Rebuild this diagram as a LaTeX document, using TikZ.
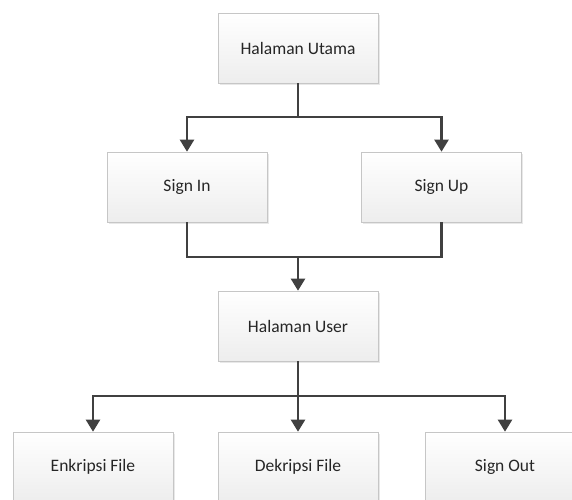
\documentclass[tikz,border=0pt]{standalone}
\usepackage{fontspec}
\setmainfont{Carlito}
\usetikzlibrary{arrows.meta,shadows}

\begin{document}
\begin{tikzpicture}[x=1pt, y=-1pt,
  box/.style={draw=gray!45, line width=0.6pt, top color=white, bottom color=gray!14,
    minimum width=160pt, minimum height=70pt, text=black!85, font=\fontsize{17.5}{20}\selectfont,
    drop shadow={opacity=0.18, shadow xshift=1.5pt, shadow yshift=-1.5pt}},
  link/.style={draw=black!75, line width=2.2pt},
  arr/.style={link, -{Triangle[width=14pt,length=12pt]}}]
  % Frame
  \useasboundingbox (0,0) rectangle (572,499);
  \clip (0,0) rectangle (572,499);
  % Boxes
  \node[box] (utama) at (298,48) {Halaman Utama};
  \node[box] (signin) at (187,187) {Sign In};
  \node[box] (signup) at (441.5,187) {Sign Up};
  \node[box] (user) at (298,326) {Halaman User};
  \node[box] (enkripsi) at (93,467) {Enkripsi File};
  \node[box] (dekripsi) at (298,467) {Dekripsi File};
  \node[box] (signout) at (505,467) {Sign Out};
  % Junctions
  \coordinate (j1) at (298,117);
  \coordinate (j2) at (298,257);
  \coordinate (j3) at (298,396);
  % Halaman Utama to Sign In / Sign Up
  \draw[link] (utama.south) -- (j1);
  \draw[arr] (j1) -| (signin.north);
  \draw[arr] (j1) -| (signup.north);
  % Sign In / Sign Up to Halaman User
  \draw[link] (signin.south) |- (j2);
  \draw[link] (signup.south) |- (j2);
  \draw[arr] (j2) -- (user.north);
  % Halaman User to menu
  \draw[link] (user.south) -- (j3);
  \draw[arr] (j3) -| (enkripsi.north);
  \draw[arr] (j3) -- (dekripsi.north);
  \draw[arr] (j3) -| (signout.north);
\end{tikzpicture}
\end{document}
